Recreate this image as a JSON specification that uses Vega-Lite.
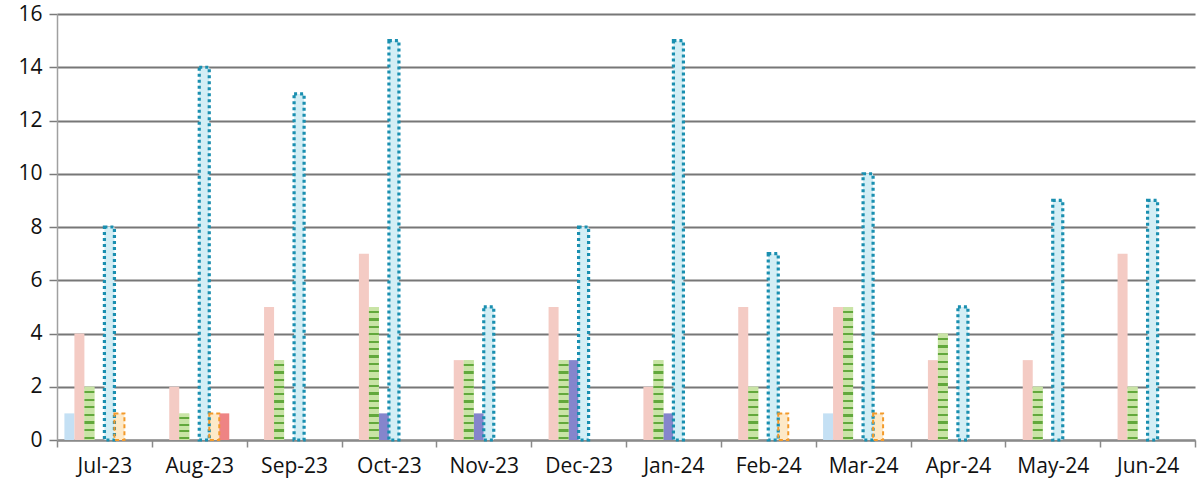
{
  "$schema": "https://vega.github.io/schema/vega-lite/v6.json",
  "width": 1138,
  "height": 426,
  "autosize": {"type": "none"},
  "padding": {"left": 57, "top": 14, "right": 9, "bottom": 48},
  "background": "white",
  "config": {
    "view": {"stroke": null},
    "font": "Open Sans"
  },
  "data": {
    "values": [
      {"month": "Jul-23", "series": "A", "value": 1},
      {"month": "Jul-23", "series": "B", "value": 4},
      {"month": "Jul-23", "series": "C", "value": 2},
      {"month": "Jul-23", "series": "E", "value": 8},
      {"month": "Jul-23", "series": "F", "value": 1},
      {"month": "Aug-23", "series": "B", "value": 2},
      {"month": "Aug-23", "series": "C", "value": 1},
      {"month": "Aug-23", "series": "E", "value": 14},
      {"month": "Aug-23", "series": "F", "value": 1},
      {"month": "Aug-23", "series": "G", "value": 1},
      {"month": "Sep-23", "series": "B", "value": 5},
      {"month": "Sep-23", "series": "C", "value": 3},
      {"month": "Sep-23", "series": "E", "value": 13},
      {"month": "Oct-23", "series": "B", "value": 7},
      {"month": "Oct-23", "series": "C", "value": 5},
      {"month": "Oct-23", "series": "D", "value": 1},
      {"month": "Oct-23", "series": "E", "value": 15},
      {"month": "Nov-23", "series": "B", "value": 3},
      {"month": "Nov-23", "series": "C", "value": 3},
      {"month": "Nov-23", "series": "D", "value": 1},
      {"month": "Nov-23", "series": "E", "value": 5},
      {"month": "Dec-23", "series": "B", "value": 5},
      {"month": "Dec-23", "series": "C", "value": 3},
      {"month": "Dec-23", "series": "D", "value": 3},
      {"month": "Dec-23", "series": "E", "value": 8},
      {"month": "Jan-24", "series": "B", "value": 2},
      {"month": "Jan-24", "series": "C", "value": 3},
      {"month": "Jan-24", "series": "D", "value": 1},
      {"month": "Jan-24", "series": "E", "value": 15},
      {"month": "Feb-24", "series": "B", "value": 5},
      {"month": "Feb-24", "series": "C", "value": 2},
      {"month": "Feb-24", "series": "E", "value": 7},
      {"month": "Feb-24", "series": "F", "value": 1},
      {"month": "Mar-24", "series": "A", "value": 1},
      {"month": "Mar-24", "series": "B", "value": 5},
      {"month": "Mar-24", "series": "C", "value": 5},
      {"month": "Mar-24", "series": "E", "value": 10},
      {"month": "Mar-24", "series": "F", "value": 1},
      {"month": "Apr-24", "series": "B", "value": 3},
      {"month": "Apr-24", "series": "C", "value": 4},
      {"month": "Apr-24", "series": "E", "value": 5},
      {"month": "May-24", "series": "B", "value": 3},
      {"month": "May-24", "series": "C", "value": 2},
      {"month": "May-24", "series": "E", "value": 9},
      {"month": "Jun-24", "series": "B", "value": 7},
      {"month": "Jun-24", "series": "C", "value": 2},
      {"month": "Jun-24", "series": "E", "value": 9}
    ]
  },
  "encoding": {
    "x": {
      "field": "month",
      "type": "nominal",
      "sort": null,
      "title": null,
      "scale": {"paddingInner": 0, "paddingOuter": 0},
      "axis": {
        "labelAngle": 0,
        "labelFontSize": 21,
        "labelColor": "#111111",
        "labelPadding": 8,
        "tickBand": "extent",
        "tickSize": 7,
        "tickColor": "#8a8a8a",
        "tickWidth": 1.5,
        "domainColor": "#8a8a8a",
        "domainWidth": 2,
        "grid": false
      }
    },
    "xOffset": {
      "field": "series",
      "type": "nominal",
      "scale": {"domain": ["A", "B", "C", "D", "E", "F", "G", "H"], "paddingInner": 0, "paddingOuter": 0.74}
    },
    "y": {
      "field": "value",
      "type": "quantitative",
      "title": null,
      "scale": {"domain": [0, 16], "nice": false},
      "axis": {
        "values": [0, 2, 4, 6, 8, 10, 12, 14, 16],
        "labelFontSize": 21,
        "labelColor": "#111111",
        "labelPadding": 7,
        "tickSize": 8,
        "tickColor": "#7a7a7a",
        "tickWidth": 1.5,
        "domainColor": "#a0a0a0",
        "domainWidth": 1.5,
        "gridColor": "#777777",
        "gridWidth": 1.8
      }
    }
  },
  "layer": [
    {
      "mark": {"type": "bar", "width": {"band": 1}},
      "encoding": {
        "color": {
          "field": "series",
          "type": "nominal",
          "legend": null,
          "scale": {
            "domain": ["A", "B", "C", "D", "E", "F", "G"],
            "range": ["#c4e0f4", "#f4cbc4", "#c9e4a6", "#8585cc", "#d3eef5", "#fde9c8", "#ee8484"]
          }
        }
      }
    },
    {
      "transform": [{"filter": "datum.series === 'C' && datum.value === 1"}],
      "mark": {"type": "bar", "width": {"band": 1}, "fill": {"gradient": "linear", "x1": 0, "y1": 0, "x2": 0, "y2": 1, "stops": [
        {"offset": 0, "color": "#c9e4a6"},
        {"offset": 0.1375, "color": "#c9e4a6"}, {"offset": 0.1375, "color": "#62a83c"}, {"offset": 0.2125, "color": "#62a83c"}, {"offset": 0.2125, "color": "#c9e4a6"},
        {"offset": 0.3875, "color": "#c9e4a6"}, {"offset": 0.3875, "color": "#62a83c"}, {"offset": 0.4625, "color": "#62a83c"}, {"offset": 0.4625, "color": "#c9e4a6"},
        {"offset": 0.6375, "color": "#c9e4a6"}, {"offset": 0.6375, "color": "#62a83c"}, {"offset": 0.7125, "color": "#62a83c"}, {"offset": 0.7125, "color": "#c9e4a6"},
        {"offset": 0.8875, "color": "#c9e4a6"}, {"offset": 0.8875, "color": "#62a83c"}, {"offset": 0.9625, "color": "#62a83c"}, {"offset": 0.9625, "color": "#c9e4a6"},
        {"offset": 1, "color": "#c9e4a6"}
      ]}},
      "encoding": {}
    },
    {
      "transform": [{"filter": "datum.series === 'C' && datum.value === 2"}],
      "mark": {"type": "bar", "width": {"band": 1}, "fill": {"gradient": "linear", "x1": 0, "y1": 0, "x2": 0, "y2": 1, "stops": [
        {"offset": 0, "color": "#c9e4a6"},
        {"offset": 0.0786, "color": "#c9e4a6"}, {"offset": 0.0786, "color": "#62a83c"}, {"offset": 0.1214, "color": "#62a83c"}, {"offset": 0.1214, "color": "#c9e4a6"},
        {"offset": 0.2214, "color": "#c9e4a6"}, {"offset": 0.2214, "color": "#62a83c"}, {"offset": 0.2643, "color": "#62a83c"}, {"offset": 0.2643, "color": "#c9e4a6"},
        {"offset": 0.3643, "color": "#c9e4a6"}, {"offset": 0.3643, "color": "#62a83c"}, {"offset": 0.4071, "color": "#62a83c"}, {"offset": 0.4071, "color": "#c9e4a6"},
        {"offset": 0.5071, "color": "#c9e4a6"}, {"offset": 0.5071, "color": "#62a83c"}, {"offset": 0.55, "color": "#62a83c"}, {"offset": 0.55, "color": "#c9e4a6"},
        {"offset": 0.65, "color": "#c9e4a6"}, {"offset": 0.65, "color": "#62a83c"}, {"offset": 0.6929, "color": "#62a83c"}, {"offset": 0.6929, "color": "#c9e4a6"},
        {"offset": 0.7929, "color": "#c9e4a6"}, {"offset": 0.7929, "color": "#62a83c"}, {"offset": 0.8357, "color": "#62a83c"}, {"offset": 0.8357, "color": "#c9e4a6"},
        {"offset": 0.9357, "color": "#c9e4a6"}, {"offset": 0.9357, "color": "#62a83c"}, {"offset": 0.9786, "color": "#62a83c"}, {"offset": 0.9786, "color": "#c9e4a6"},
        {"offset": 1, "color": "#c9e4a6"}
      ]}},
      "encoding": {}
    },
    {
      "transform": [{"filter": "datum.series === 'C' && datum.value === 3"}],
      "mark": {"type": "bar", "width": {"band": 1}, "fill": {"gradient": "linear", "x1": 0, "y1": 0, "x2": 0, "y2": 1, "stops": [
        {"offset": 0, "color": "#c9e4a6"},
        {"offset": 0.05, "color": "#c9e4a6"}, {"offset": 0.05, "color": "#62a83c"}, {"offset": 0.0773, "color": "#62a83c"}, {"offset": 0.0773, "color": "#c9e4a6"},
        {"offset": 0.1409, "color": "#c9e4a6"}, {"offset": 0.1409, "color": "#62a83c"}, {"offset": 0.1682, "color": "#62a83c"}, {"offset": 0.1682, "color": "#c9e4a6"},
        {"offset": 0.2318, "color": "#c9e4a6"}, {"offset": 0.2318, "color": "#62a83c"}, {"offset": 0.2591, "color": "#62a83c"}, {"offset": 0.2591, "color": "#c9e4a6"},
        {"offset": 0.3227, "color": "#c9e4a6"}, {"offset": 0.3227, "color": "#62a83c"}, {"offset": 0.35, "color": "#62a83c"}, {"offset": 0.35, "color": "#c9e4a6"},
        {"offset": 0.4136, "color": "#c9e4a6"}, {"offset": 0.4136, "color": "#62a83c"}, {"offset": 0.4409, "color": "#62a83c"}, {"offset": 0.4409, "color": "#c9e4a6"},
        {"offset": 0.5045, "color": "#c9e4a6"}, {"offset": 0.5045, "color": "#62a83c"}, {"offset": 0.5318, "color": "#62a83c"}, {"offset": 0.5318, "color": "#c9e4a6"},
        {"offset": 0.5955, "color": "#c9e4a6"}, {"offset": 0.5955, "color": "#62a83c"}, {"offset": 0.6227, "color": "#62a83c"}, {"offset": 0.6227, "color": "#c9e4a6"},
        {"offset": 0.6864, "color": "#c9e4a6"}, {"offset": 0.6864, "color": "#62a83c"}, {"offset": 0.7136, "color": "#62a83c"}, {"offset": 0.7136, "color": "#c9e4a6"},
        {"offset": 0.7773, "color": "#c9e4a6"}, {"offset": 0.7773, "color": "#62a83c"}, {"offset": 0.8045, "color": "#62a83c"}, {"offset": 0.8045, "color": "#c9e4a6"},
        {"offset": 0.8682, "color": "#c9e4a6"}, {"offset": 0.8682, "color": "#62a83c"}, {"offset": 0.8955, "color": "#62a83c"}, {"offset": 0.8955, "color": "#c9e4a6"},
        {"offset": 0.9591, "color": "#c9e4a6"}, {"offset": 0.9591, "color": "#62a83c"}, {"offset": 0.9864, "color": "#62a83c"}, {"offset": 0.9864, "color": "#c9e4a6"},
        {"offset": 1, "color": "#c9e4a6"}
      ]}},
      "encoding": {}
    },
    {
      "transform": [{"filter": "datum.series === 'C' && datum.value === 4"}],
      "mark": {"type": "bar", "width": {"band": 1}, "fill": {"gradient": "linear", "x1": 0, "y1": 0, "x2": 0, "y2": 1, "stops": [
        {"offset": 0, "color": "#c9e4a6"},
        {"offset": 0.0393, "color": "#c9e4a6"}, {"offset": 0.0393, "color": "#62a83c"}, {"offset": 0.0607, "color": "#62a83c"}, {"offset": 0.0607, "color": "#c9e4a6"},
        {"offset": 0.1107, "color": "#c9e4a6"}, {"offset": 0.1107, "color": "#62a83c"}, {"offset": 0.1321, "color": "#62a83c"}, {"offset": 0.1321, "color": "#c9e4a6"},
        {"offset": 0.1821, "color": "#c9e4a6"}, {"offset": 0.1821, "color": "#62a83c"}, {"offset": 0.2036, "color": "#62a83c"}, {"offset": 0.2036, "color": "#c9e4a6"},
        {"offset": 0.2536, "color": "#c9e4a6"}, {"offset": 0.2536, "color": "#62a83c"}, {"offset": 0.275, "color": "#62a83c"}, {"offset": 0.275, "color": "#c9e4a6"},
        {"offset": 0.325, "color": "#c9e4a6"}, {"offset": 0.325, "color": "#62a83c"}, {"offset": 0.3464, "color": "#62a83c"}, {"offset": 0.3464, "color": "#c9e4a6"},
        {"offset": 0.3964, "color": "#c9e4a6"}, {"offset": 0.3964, "color": "#62a83c"}, {"offset": 0.4179, "color": "#62a83c"}, {"offset": 0.4179, "color": "#c9e4a6"},
        {"offset": 0.4679, "color": "#c9e4a6"}, {"offset": 0.4679, "color": "#62a83c"}, {"offset": 0.4893, "color": "#62a83c"}, {"offset": 0.4893, "color": "#c9e4a6"},
        {"offset": 0.5393, "color": "#c9e4a6"}, {"offset": 0.5393, "color": "#62a83c"}, {"offset": 0.5607, "color": "#62a83c"}, {"offset": 0.5607, "color": "#c9e4a6"},
        {"offset": 0.6107, "color": "#c9e4a6"}, {"offset": 0.6107, "color": "#62a83c"}, {"offset": 0.6321, "color": "#62a83c"}, {"offset": 0.6321, "color": "#c9e4a6"},
        {"offset": 0.6821, "color": "#c9e4a6"}, {"offset": 0.6821, "color": "#62a83c"}, {"offset": 0.7036, "color": "#62a83c"}, {"offset": 0.7036, "color": "#c9e4a6"},
        {"offset": 0.7536, "color": "#c9e4a6"}, {"offset": 0.7536, "color": "#62a83c"}, {"offset": 0.775, "color": "#62a83c"}, {"offset": 0.775, "color": "#c9e4a6"},
        {"offset": 0.825, "color": "#c9e4a6"}, {"offset": 0.825, "color": "#62a83c"}, {"offset": 0.8464, "color": "#62a83c"}, {"offset": 0.8464, "color": "#c9e4a6"},
        {"offset": 0.8964, "color": "#c9e4a6"}, {"offset": 0.8964, "color": "#62a83c"}, {"offset": 0.9179, "color": "#62a83c"}, {"offset": 0.9179, "color": "#c9e4a6"},
        {"offset": 0.9679, "color": "#c9e4a6"}, {"offset": 0.9679, "color": "#62a83c"}, {"offset": 0.9893, "color": "#62a83c"}, {"offset": 0.9893, "color": "#c9e4a6"},
        {"offset": 1, "color": "#c9e4a6"}
      ]}},
      "encoding": {}
    },
    {
      "transform": [{"filter": "datum.series === 'C' && datum.value === 5"}],
      "mark": {"type": "bar", "width": {"band": 1}, "fill": {"gradient": "linear", "x1": 0, "y1": 0, "x2": 0, "y2": 1, "stops": [
        {"offset": 0, "color": "#c9e4a6"},
        {"offset": 0.0306, "color": "#c9e4a6"}, {"offset": 0.0306, "color": "#62a83c"}, {"offset": 0.0472, "color": "#62a83c"}, {"offset": 0.0472, "color": "#c9e4a6"},
        {"offset": 0.0861, "color": "#c9e4a6"}, {"offset": 0.0861, "color": "#62a83c"}, {"offset": 0.1028, "color": "#62a83c"}, {"offset": 0.1028, "color": "#c9e4a6"},
        {"offset": 0.1417, "color": "#c9e4a6"}, {"offset": 0.1417, "color": "#62a83c"}, {"offset": 0.1583, "color": "#62a83c"}, {"offset": 0.1583, "color": "#c9e4a6"},
        {"offset": 0.1972, "color": "#c9e4a6"}, {"offset": 0.1972, "color": "#62a83c"}, {"offset": 0.2139, "color": "#62a83c"}, {"offset": 0.2139, "color": "#c9e4a6"},
        {"offset": 0.2528, "color": "#c9e4a6"}, {"offset": 0.2528, "color": "#62a83c"}, {"offset": 0.2694, "color": "#62a83c"}, {"offset": 0.2694, "color": "#c9e4a6"},
        {"offset": 0.3083, "color": "#c9e4a6"}, {"offset": 0.3083, "color": "#62a83c"}, {"offset": 0.325, "color": "#62a83c"}, {"offset": 0.325, "color": "#c9e4a6"},
        {"offset": 0.3639, "color": "#c9e4a6"}, {"offset": 0.3639, "color": "#62a83c"}, {"offset": 0.3806, "color": "#62a83c"}, {"offset": 0.3806, "color": "#c9e4a6"},
        {"offset": 0.4194, "color": "#c9e4a6"}, {"offset": 0.4194, "color": "#62a83c"}, {"offset": 0.4361, "color": "#62a83c"}, {"offset": 0.4361, "color": "#c9e4a6"},
        {"offset": 0.475, "color": "#c9e4a6"}, {"offset": 0.475, "color": "#62a83c"}, {"offset": 0.4917, "color": "#62a83c"}, {"offset": 0.4917, "color": "#c9e4a6"},
        {"offset": 0.5306, "color": "#c9e4a6"}, {"offset": 0.5306, "color": "#62a83c"}, {"offset": 0.5472, "color": "#62a83c"}, {"offset": 0.5472, "color": "#c9e4a6"},
        {"offset": 0.5861, "color": "#c9e4a6"}, {"offset": 0.5861, "color": "#62a83c"}, {"offset": 0.6028, "color": "#62a83c"}, {"offset": 0.6028, "color": "#c9e4a6"},
        {"offset": 0.6417, "color": "#c9e4a6"}, {"offset": 0.6417, "color": "#62a83c"}, {"offset": 0.6583, "color": "#62a83c"}, {"offset": 0.6583, "color": "#c9e4a6"},
        {"offset": 0.6972, "color": "#c9e4a6"}, {"offset": 0.6972, "color": "#62a83c"}, {"offset": 0.7139, "color": "#62a83c"}, {"offset": 0.7139, "color": "#c9e4a6"},
        {"offset": 0.7528, "color": "#c9e4a6"}, {"offset": 0.7528, "color": "#62a83c"}, {"offset": 0.7694, "color": "#62a83c"}, {"offset": 0.7694, "color": "#c9e4a6"},
        {"offset": 0.8083, "color": "#c9e4a6"}, {"offset": 0.8083, "color": "#62a83c"}, {"offset": 0.825, "color": "#62a83c"}, {"offset": 0.825, "color": "#c9e4a6"},
        {"offset": 0.8639, "color": "#c9e4a6"}, {"offset": 0.8639, "color": "#62a83c"}, {"offset": 0.8806, "color": "#62a83c"}, {"offset": 0.8806, "color": "#c9e4a6"},
        {"offset": 0.9194, "color": "#c9e4a6"}, {"offset": 0.9194, "color": "#62a83c"}, {"offset": 0.9361, "color": "#62a83c"}, {"offset": 0.9361, "color": "#c9e4a6"},
        {"offset": 0.975, "color": "#c9e4a6"}, {"offset": 0.975, "color": "#62a83c"}, {"offset": 0.9917, "color": "#62a83c"}, {"offset": 0.9917, "color": "#c9e4a6"},
        {"offset": 1, "color": "#c9e4a6"}
      ]}},
      "encoding": {}
    },
    {
      "transform": [{"filter": "datum.series === 'E'"}],
      "mark": {"type": "bar", "width": {"band": 1}, "fill": null, "stroke": "#1a8fb0", "strokeWidth": 3.2, "strokeDash": [3, 3]},
      "encoding": {}
    },
    {
      "transform": [{"filter": "datum.series === 'F'"}],
      "mark": {"type": "bar", "width": {"band": 1}, "fill": null, "stroke": "#f39a2a", "strokeWidth": 2, "strokeDash": [4, 3]},
      "encoding": {}
    }
  ]
}
